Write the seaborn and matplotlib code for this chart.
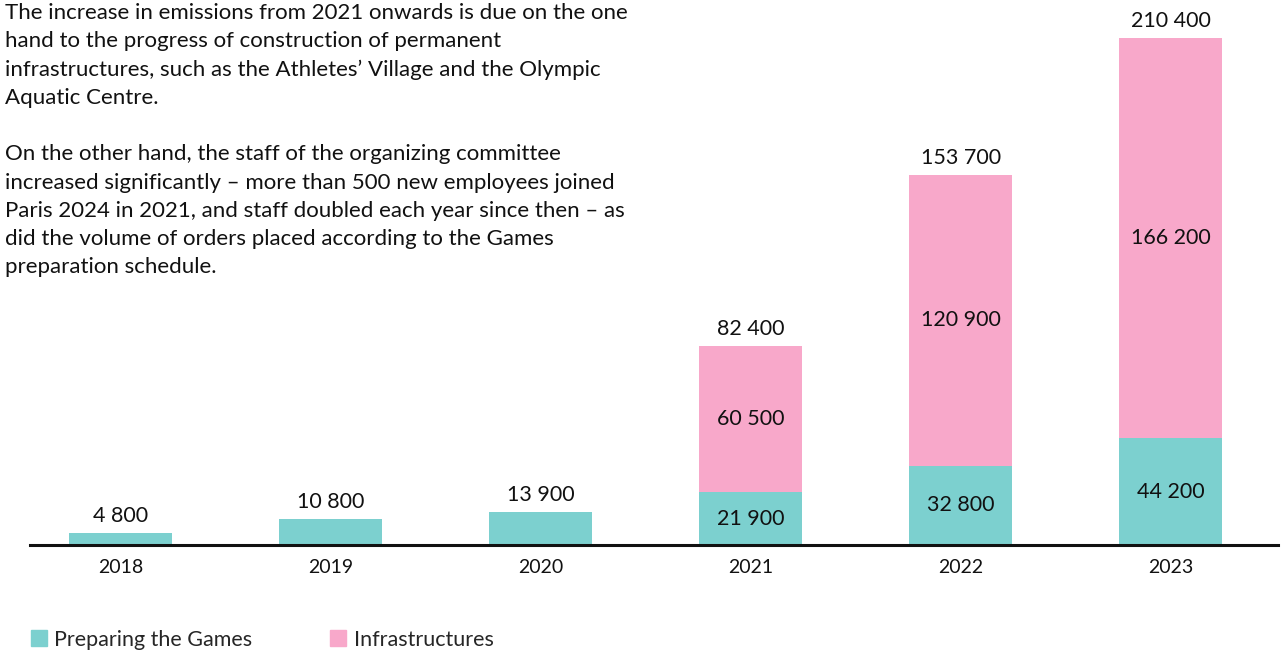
import matplotlib
matplotlib.use("Agg")
import matplotlib.pyplot as plt
import seaborn as sns
import pandas as pd
from matplotlib.patches import Patch

# --- Data ---
years = ["2018", "2019", "2020", "2021", "2022", "2023"]
preparing = [4800, 10800, 13900, 21900, 32800, 44200]
infrastructures = [0, 0, 0, 60500, 120900, 166200]
totals = [p + i for p, i in zip(preparing, infrastructures)]

teal = "#7cd0cf"
pink = "#f8a8ca"

df = pd.DataFrame({"year": years, "preparing": preparing,
                   "infra": infrastructures, "total": totals})

def fmt(v):
    return f"{v:,}".replace(",", " ")

sns.set_style("white")
plt.rcParams["font.family"] = ["Lato", "DejaVu Sans"]

fig = plt.figure(figsize=(12.84, 6.5), dpi=100)
ax = fig.add_axes([30 / 1284, 105 / 650, 1248 / 1284, 507 / 650])

# --- Stacked bars: total (pink) behind, preparing (teal) in front ---
sns.barplot(data=df, x="year", y="total", color=pink, width=0.49,
            saturation=1, linewidth=0, ax=ax)
sns.barplot(data=df, x="year", y="preparing", color=teal, width=0.49,
            saturation=1, linewidth=0, ax=ax)

ax.set_xlim(-0.433, 5.51)
ax.set_ylim(0, max(totals))

# --- Labels ---
lab_font = dict(fontsize=15.5, color="#111111", family=["Lato", "DejaVu Sans"])
for i, (p, inf, t) in enumerate(zip(preparing, infrastructures, totals)):
    ax.annotate(fmt(t), (i, t), xytext=(0, 5), textcoords="offset points",
                ha="center", va="bottom", annotation_clip=False, **lab_font)
    if inf > 0:
        ax.text(i, p + inf / 2, fmt(inf), ha="center", va="center", **lab_font)
        ax.text(i, p / 2, fmt(p), ha="center", va="center", **lab_font)

# --- Axes styling ---
for s in ["top", "right", "left"]:
    ax.spines[s].set_visible(False)
ax.spines["bottom"].set_linewidth(2.2)
ax.spines["bottom"].set_color("#111111")
ax.set_yticks([])
ax.set_xlabel("")
ax.set_ylabel("")
ax.tick_params(axis="x", length=0, pad=10, labelsize=14, labelcolor="#111111")

# --- Paragraph text ---
para = ("The increase in emissions from 2021 onwards is due on the one\n"
        "hand to the progress of construction of permanent\n"
        "infrastructures, such as the Athletes\u2019 Village and the Olympic\n"
        "Aquatic Centre.\n"
        "\n"
        "On the other hand, the staff of the organizing committee\n"
        "increased significantly \u2013 more than 500 new employees joined\n"
        "Paris 2024 in 2021, and staff doubled each year since then \u2013 as\n"
        "did the volume of orders placed according to the Games\n"
        "preparation schedule.")
fig.text(5 / 1284, 1 - 3 / 650, para, ha="left", va="top", fontsize=16,
         color="#111111", linespacing=1.51, family=["Lato", "DejaVu Sans"])

# --- Legend ---
handles = [Patch(color=teal, label="Preparing the Games"),
           Patch(color=pink, label="Infrastructures")]
fig.legend(handles=handles, loc="upper left",
           bbox_to_anchor=(22 / 1284, 1 - 621 / 650), ncol=2, frameon=False,
           fontsize=15.5, handlelength=0.75, handleheight=0.75, handletextpad=0.35,
           columnspacing=3.6, borderaxespad=0)

plt.savefig("out.png", dpi=100)
